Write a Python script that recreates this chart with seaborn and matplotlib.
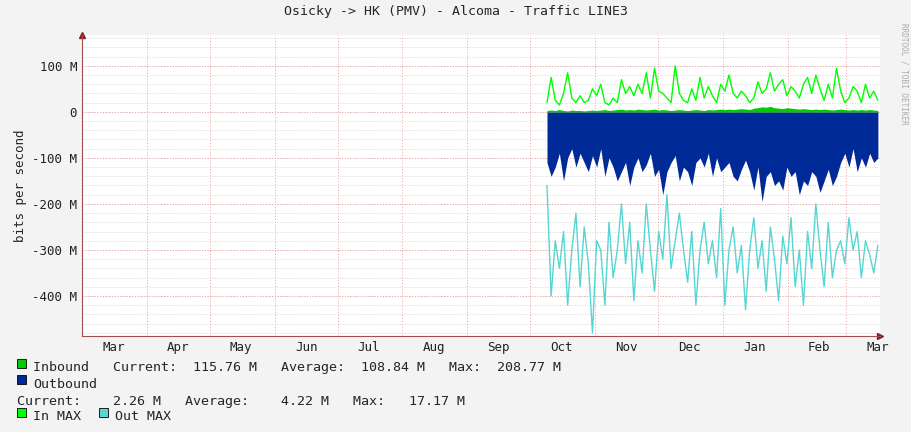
import numpy as np
import pandas as pd
import matplotlib
matplotlib.use("Agg")
import matplotlib.pyplot as plt
import seaborn as sns

# values, in Mbit/s, roughly every two days from Oct 9 to Mar 16
in_max = [20, 75, 25, 15, 40, 85, 30, 20, 35, 20, 25, 50, 35, 60, 20, 15,
          30, 20, 70, 40, 55, 35, 60, 40, 85, 30, 95, 45, 40, 30, 20, 100, 40, 25,
          20, 50, 25, 75, 30, 55, 35, 20, 60, 45, 80, 40, 30, 45, 35, 20,
          30, 65, 40, 50, 85, 45, 60, 70, 35, 55, 45, 30, 60, 75, 40,
          80, 50, 25, 60, 30, 95, 45, 20, 30, 55, 45, 20, 60, 30, 45, 25]
inbound = [3, 4, 3, 5, 3, 2, 4, 3, 3, 2, 3, 4, 3, 4, 5, 3,
           4, 5, 6, 4, 5, 4, 6, 5, 4, 5, 6, 4, 5, 4, 3, 4, 5, 4,
           3, 4, 5, 4, 3, 5, 4, 5, 6, 5, 6, 5, 6, 7, 6, 5,
           8, 9, 11, 10, 12, 9, 8, 7, 9, 8, 7, 6, 7, 6, 5,
           6, 5, 6, 5, 4, 5, 6, 5, 4, 5, 4, 5, 4, 5, 4, 3]
outbound = [110, 140, 120, 90, 150, 100, 80, 120, 90, 110, 130, 95, 120, 80, 140, 100,
            120, 150, 130, 110, 160, 120, 100, 130, 115, 90, 140, 125, 180, 130, 110, 95, 150, 120,
            130, 160, 110, 100, 120, 90, 140, 100, 130, 120, 110, 140, 150, 125, 105, 130,
            170, 120, 195, 140, 130, 160, 150, 170, 120, 140, 130, 180, 150, 160, 130,
            140, 175, 150, 125, 160, 140, 110, 90, 120, 80, 130, 100, 120, 90, 110, 100]
out_max = [160, 400, 280, 340, 260, 420, 300, 220, 380, 250, 330, 480, 280, 300, 420, 240,
           360, 300, 200, 330, 240, 410, 280, 350, 200, 300, 390, 260, 320, 180, 340, 280, 220, 300,
           370, 260, 420, 300, 240, 330, 280, 360, 210, 420, 300, 250, 350, 290, 430, 300,
           230, 340, 280, 390, 250, 320, 410, 270, 330, 230, 380, 300, 420, 260, 340,
           200, 300, 380, 240, 360, 300, 280, 330, 230, 300, 260, 360, 280, 310, 350, 290]

n = len(in_max)
dates = pd.date_range("2014-10-09", "2015-03-16", periods=n)
df = pd.DataFrame({"date": dates, "in_max": in_max, "inbound": inbound,
                   "outbound": [-v for v in outbound], "out_max": [-v for v in out_max]})

sns.set_style("white")
plt.rcParams["font.family"] = ["DejaVu Sans Mono"]

fig = plt.figure(figsize=(9.11, 4.32), dpi=100, facecolor="#F3F3F3")
ax = fig.add_axes([82 / 911, 96 / 432, 798 / 911, 301 / 432])
ax.set_facecolor("white")

ax.fill_between(df["date"], 0, df["outbound"], color="#002A97", lw=0)
ax.fill_between(df["date"], 0, df["inbound"], color="#00CC00", lw=0)
sns.lineplot(data=df, x="date", y="in_max", color="#00FF00", lw=1, ax=ax)
sns.lineplot(data=df, x="date", y="out_max", color="#55D6D3", lw=1, ax=ax)

ax.set_xlim(pd.Timestamp("2014-03-01"), pd.Timestamp("2015-03-17"))
ax.set_ylim(-487, 167)

# grids
for y in np.arange(-480, 167, 20):
    ax.axhline(y, color="#C8C8C8", ls=(0, (1, 2)), lw=0.6, zorder=0)
for y in np.arange(-400, 167, 100):
    ax.axhline(y, color="#F0A0A0", ls=(0, (1, 2)), lw=0.7, zorder=0)
for d in pd.date_range("2014-04-01", "2015-03-01", freq="MS"):
    ax.axvline(d, color="#F0A0A0", ls=(0, (1, 2)), lw=0.7, zorder=0)

ax.set_yticks([100, 0, -100, -200, -300, -400])
ax.set_yticklabels(["100 M", "0", "-100 M", "-200 M", "-300 M", "-400 M"])
mids = pd.date_range("2014-03-01", "2015-03-01", freq="MS") + pd.Timedelta(days=15)
ax.set_xticks(mids)
ax.set_xticklabels([d.strftime("%b") for d in mids])
ax.tick_params(axis="both", length=0, labelsize=9, colors="#222222")
ax.set_xlabel("")
ax.set_ylabel("bits per second", fontsize=9)

for s in ["top", "right"]:
    ax.spines[s].set_visible(False)
ax.spines["left"].set_color("#A05050")
ax.spines["bottom"].set_color("#A05050")
ax.plot(1, 0, ">", color="#8B2020", ms=5, transform=ax.transAxes, clip_on=False)
ax.plot(0, 1, "^", color="#8B2020", ms=5, transform=ax.transAxes, clip_on=False)

fig.text(0.5, 0.965, "Osicky -> HK (PMV) - Alcoma - Traffic LINE3", ha="center", fontsize=9.5)
fig.text(0.992, 0.83, "RRDTOOL / TOBI OETIKER", rotation=270, fontsize=5.5, color="#AAAAAA", ha="center", va="center")

def box(x, y, c):
    fig.patches.append(plt.Rectangle((x / 911, 1 - (y + 5) / 432), 9 / 911, 9 / 432,
                                     transform=fig.transFigure, fc=c, ec="black", lw=0.6))

fs = 9.6
box(17, 363, "#00CC00")
fig.text(33 / 911, 1 - 368 / 432, "Inbound   Current:  115.76 M   Average:  108.84 M   Max:  208.77 M", fontsize=fs, va="center")
box(17, 379, "#002A97")
fig.text(33 / 911, 1 - 384 / 432, "Outbound", fontsize=fs, va="center")
fig.text(17 / 911, 1 - 401 / 432, "Current:    2.26 M   Average:    4.22 M   Max:   17.17 M", fontsize=fs, va="center")
box(17, 412, "#00FF00")
fig.text(33 / 911, 1 - 417 / 432, "In MAX", fontsize=fs, va="center")
box(99, 412, "#55D6D3")
fig.text(115 / 911, 1 - 417 / 432, "Out MAX", fontsize=fs, va="center")

fig.savefig("out.png", dpi=100, facecolor=fig.get_facecolor())
